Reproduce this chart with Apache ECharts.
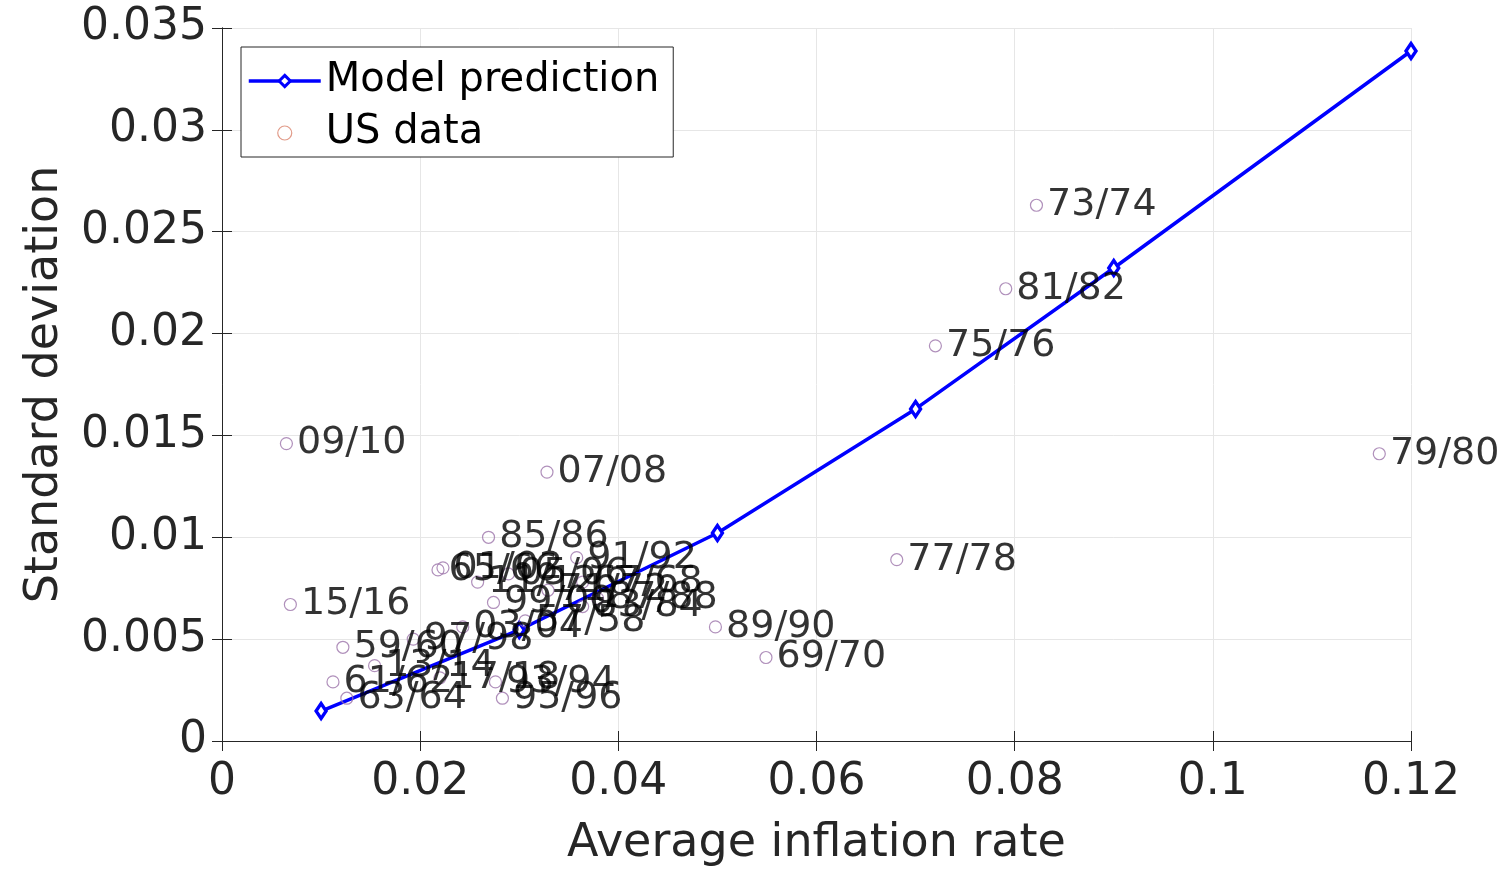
<!DOCTYPE html>
<html>
<head>
<meta charset="utf-8">
<script src="https://cdn.jsdelivr.net/npm/echarts@6/dist/echarts.min.js"></script>
<style>
html,body{margin:0;padding:0;background:#fff;}
#chart{width:1509px;height:869px;}
</style>
</head>
<body>
<div id="chart"></div>
<script>
// ---- data ----
const periodLabels = ['57/58','59/60','61/62','63/64','65/66','67/68','69/70','71/72','73/74','75/76','77/78','79/80','81/82','83/84','85/86','87/88','89/90','91/92','93/94','95/96','97/98','99/00','01/02','03/04','05/06','07/08','09/10','11/12','13/14','15/16','17/18'];
const avgInflation = [0.0306,0.0122,0.0112,0.0126,0.0218,0.0364,0.0549,0.0329,0.0822,0.0720,0.0681,0.1168,0.0791,0.0364,0.0269,0.0379,0.0498,0.0358,0.0276,0.0283,0.0193,0.0274,0.0223,0.0243,0.0289,0.0328,0.0065,0.0258,0.0154,0.0069,0.0220];
const stdDev =      [0.0059,0.0046,0.0029,0.0021,0.0084,0.0078,0.0041,0.0074,0.0263,0.0194,0.0089,0.0141,0.0222,0.0066,0.0100,0.0070,0.0056,0.0090,0.0029,0.0021,0.0050,0.0068,0.0085,0.0056,0.0082,0.0132,0.0146,0.0078,0.0037,0.0067,0.0031];
const modelX = [0.01,0.03,0.05,0.07,0.09,0.12];
const modelY = [0.00147,0.00545,0.01021,0.0163,0.02322,0.03387];
const xTicks = [0,0.02,0.04,0.06,0.08,0.1,0.12];
const yTicks = [0,0.005,0.01,0.015,0.02,0.025,0.03,0.035];

const FONT = 'DejaVu Sans';
const scatterData = avgInflation.map((x,i)=>({value:[x,stdDev[i]], name:periodLabels[i]}));
const modelData = modelX.map((x,i)=>[x,modelY[i]]);

const chart = echarts.init(document.getElementById('chart'));
const axisLineStyle = {color:'#262626', width:1};
chart.setOption({
  animation:false,
  backgroundColor:'#fff',
  textStyle:{fontFamily:FONT},
  grid:{left:222, right:98, top:28, bottom:128, containLabel:false, outerBoundsMode:'none'},
  legend:{
    left:241, top:47, orient:'vertical',
    backgroundColor:'#fff', borderColor:'#262626', borderWidth:1,
    padding:[14,14,4,6], itemGap:12, itemWidth:72, itemHeight:14,
    textStyle:{fontFamily:FONT, fontSize:40, color:'#000'},
    data:[
      {name:'Model prediction', lineStyle:{width:3.5, color:'#0000ff'}, itemStyle:{color:'#fff', borderColor:'#0000ff', borderWidth:3}},
      {name:'US data', icon:'circle', itemStyle:{color:'rgba(0,0,0,0)', borderColor:'#d9826b', borderWidth:1.2}}
    ]
  },
  xAxis:[{
    type:'value', min:0, max:0.12, interval:0.02,
    name:'Average inflation rate', nameLocation:'middle', nameGap:80,
    nameTextStyle:{fontFamily:FONT, fontSize:46, color:'#262626'},
    axisLine:{show:true, lineStyle:axisLineStyle},
    axisTick:{show:true, inside:true, length:10, lineStyle:axisLineStyle},
    axisLabel:{fontFamily:FONT, fontSize:44, color:'#262626', margin:20,
      formatter:v=>{const t=xTicks.find(k=>Math.abs(k-v)<1e-9); return t===undefined?'':String(t);}},
    splitLine:{show:true, lineStyle:{color:'#e6e6e6', width:1}}
  },{
    type:'value', min:0, max:0.12, interval:0.02, position:'top',
    axisLine:{show:true, lineStyle:axisLineStyle},
    axisTick:{show:true, inside:true, length:10, lineStyle:axisLineStyle},
    axisLabel:{show:false}, splitLine:{show:false}
  }],
  yAxis:[{
    type:'value', min:0, max:0.035, interval:0.005,
    name:'Standard deviation', nameLocation:'middle', nameGap:154, nameRotate:90,
    nameTextStyle:{fontFamily:FONT, fontSize:46, color:'#262626'},
    axisLine:{show:true, lineStyle:axisLineStyle},
    axisTick:{show:true, inside:true, length:10, lineStyle:axisLineStyle},
    axisLabel:{fontFamily:FONT, fontSize:44, color:'#262626', margin:15,
      formatter:v=>{const t=yTicks.find(k=>Math.abs(k-v)<1e-9); return t===undefined?'':String(t);}},
    splitLine:{show:true, lineStyle:{color:'#e6e6e6', width:1}}
  },{
    type:'value', min:0, max:0.035, interval:0.005, position:'right',
    axisLine:{show:true, lineStyle:axisLineStyle},
    axisTick:{show:true, inside:true, length:10, lineStyle:axisLineStyle},
    axisLabel:{show:false}, splitLine:{show:false}
  }],
  series:[
    {
      name:'Model prediction', type:'line', data:modelData, z:3,
      lineStyle:{color:'#0000ff', width:3.5},
      itemStyle:{color:'#ffffff', borderColor:'#0000ff', borderWidth:3.5},
      symbol:'diamond', symbolSize:[10,15], showAllSymbol:true
    },
    {
      name:'US data', type:'scatter', data:scatterData, z:4,
      symbol:'circle', symbolSize:12,
      itemStyle:{color:'rgba(0,0,0,0)', borderColor:'#9c74aa', borderWidth:1.2},
      label:{show:true, position:'right', distance:4, formatter:p=>p.name,
        fontFamily:FONT, fontSize:38, color:'#000'}
    }
  ]
});
</script>
</body>
</html>
